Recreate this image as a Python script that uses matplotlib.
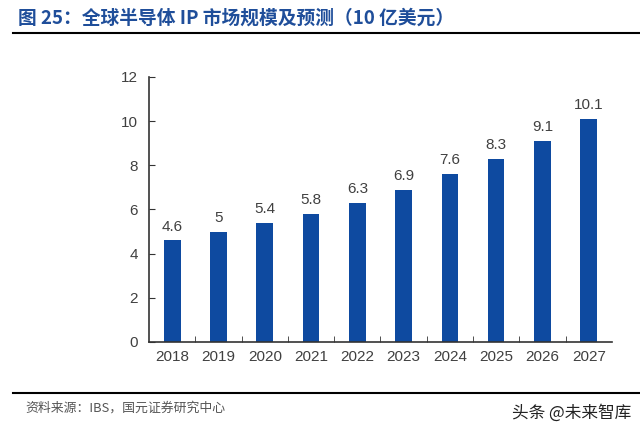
import matplotlib
matplotlib.use("Agg")
import matplotlib.pyplot as plt
from matplotlib.lines import Line2D

plt.rcParams['font.family'] = ['Liberation Sans', 'Noto Sans CJK SC', 'DejaVu Sans']

years = ['2018', '2019', '2020', '2021', '2022', '2023', '2024', '2025', '2026', '2027']
values = [4.6, 5, 5.4, 5.8, 6.3, 6.9, 7.6, 8.3, 9.1, 10.1]
value_labels = ['4.6', '5', '5.4', '5.8', '6.3', '6.9', '7.6', '8.3', '9.1', '10.1']

BAR_COLOR = '#0E4AA0'
TITLE_COLOR = '#1F4E9A'
TEXT_GREY = '#404040'

fig = plt.figure(figsize=(6.4, 4.36), dpi=100)
ax = fig.add_axes([0.233, 0.2156, 0.723, 0.608])

x = range(len(years))
ax.bar(x, values, width=0.36, color=BAR_COLOR)
for i, (v, lab) in enumerate(zip(values, value_labels)):
    ax.text(i, v + 0.3, lab, ha='center', va='bottom', fontsize=11, color=TEXT_GREY)

ax.set_xlim(-0.5, len(years) - 0.5)
ax.set_ylim(0, 12)
ax.set_yticks(range(0, 13, 2))
ax.set_xticks(list(x))
ax.set_xticklabels(years)
ax.set_xticks([i + 0.5 for i in range(len(years) - 1)], minor=True)
ax.tick_params(axis='x', which='major', length=0, labelsize=11, labelcolor=TEXT_GREY, pad=6)
ax.tick_params(axis='x', which='minor', direction='in', length=4, color='#333333')
ax.tick_params(axis='y', direction='in', length=4, labelsize=11, labelcolor=TEXT_GREY, pad=8, color='#333333')
for s in ['top', 'right']:
    ax.spines[s].set_visible(False)
for s in ['left', 'bottom']:
    ax.spines[s].set_color('#333333')
    ax.spines[s].set_linewidth(1.2)

# title and frame lines
fig.text(0.028, 0.958, '图 25：全球半导体 IP 市场规模及预测（10 亿美元）',
         fontsize=13.5, fontweight='bold', color=TITLE_COLOR,
         family=['Noto Sans CJK SC', 'DejaVu Sans'], va='center')
fig.add_artist(Line2D([0.02, 1.0], [0.924, 0.924], color='black', linewidth=1.5))
fig.add_artist(Line2D([0.02, 1.0], [0.099, 0.099], color='black', linewidth=1.5))

fig.text(0.04, 0.063, '资料来源：IBS，国元证券研究中心', fontsize=9.3, color='#555555',
         family=['Noto Sans CJK SC', 'DejaVu Sans'], va='center')
fig.text(0.80, 0.052, '头条 @未来智库', fontsize=12, color='#222222',
         family=['Noto Sans CJK SC', 'DejaVu Sans'], va='center')

fig.savefig('out.png', dpi=100)
